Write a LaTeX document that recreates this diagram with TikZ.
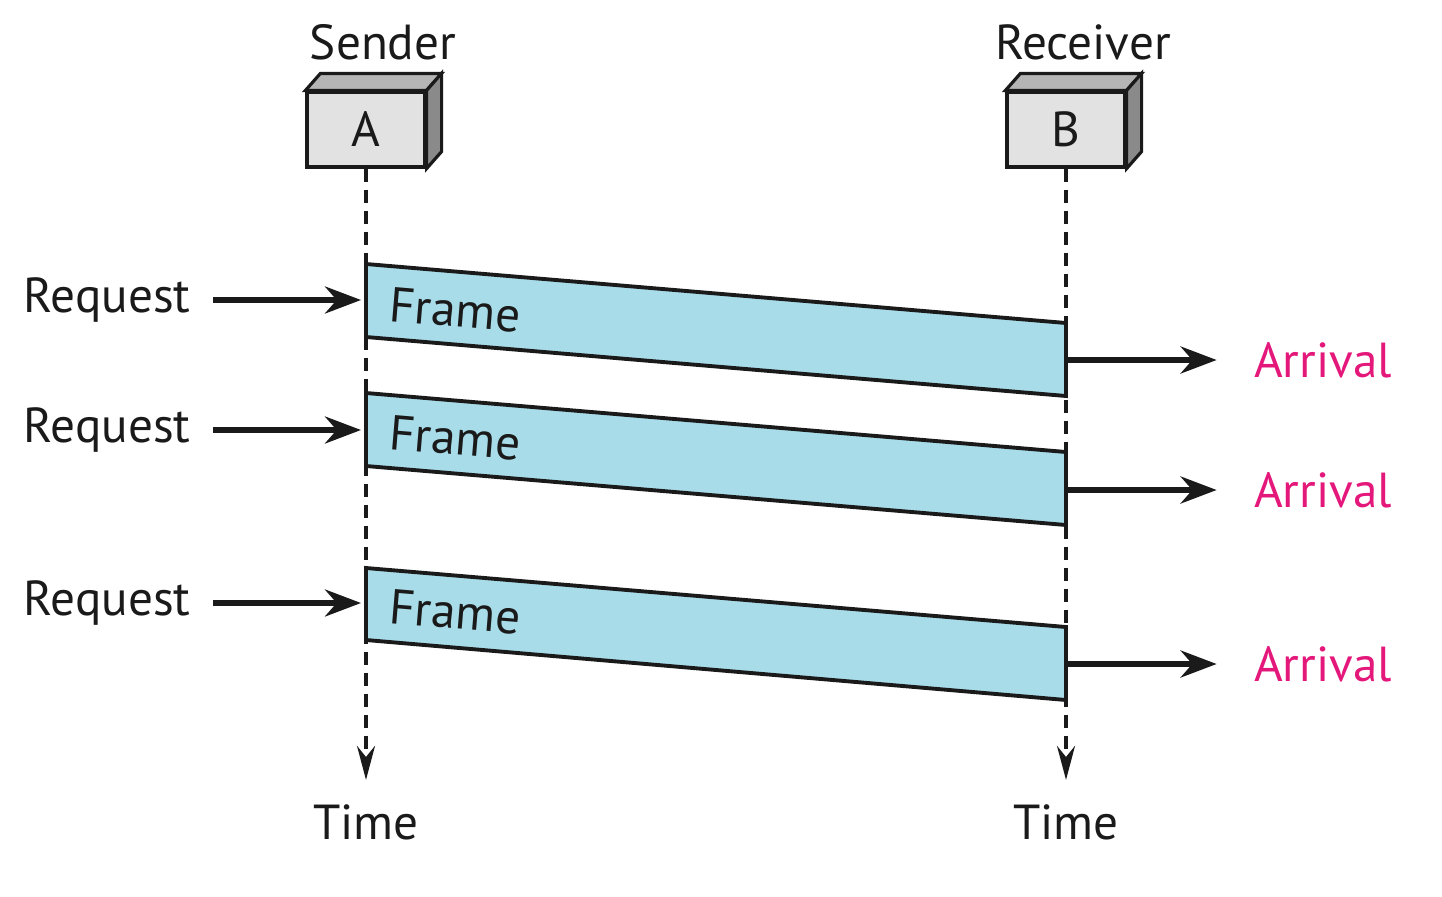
\documentclass[tikz,border=0pt]{standalone}
\usepackage{fontspec}
\setmainfont{PT Sans}
\usetikzlibrary{arrows.meta,positioning,calc}
\definecolor{Ink}{HTML}{1A1A1A}
\definecolor{Sky}{HTML}{A8DCE9}
\definecolor{Pink}{HTML}{E4187B}
\definecolor{BoxFace}{HTML}{E2E2E2}
\definecolor{BoxTop}{HTML}{B5B5B5}
\definecolor{BoxSide}{HTML}{8A8A8A}

\begin{document}
\begin{tikzpicture}[x=0.1cm,y=-0.1cm,
    lbl/.style={font=\fontsize{14}{16}\selectfont,text=Ink},
    station/.style={lbl,draw=Ink,line width=0.9pt,fill=BoxFace,minimum width=1.18cm,minimum height=0.75cm},
    arr/.style={-{Stealth[length=0.36cm,width=0.27cm]},line width=1.5pt,Ink},
    life/.style={dash pattern=on 0.13cm off 0.08cm,line width=0.9pt,Ink,-{Stealth[length=0.34cm,width=0.18cm]}},
    packet/.style={draw=Ink,line width=1.1pt,fill=Sky}]
        \useasboundingbox (0,0) rectangle (144.2,89.6);
        % stations
        \node[station] (A) at (36.6,12.95) {A};
        \draw[Ink,line width=0.9pt,fill=BoxTop] (A.north west) -- ++(1.5,-1.7) -- ($(A.north east)+(1.5,-1.7)$) -- (A.north east) -- cycle;
        \draw[Ink,line width=0.9pt,fill=BoxSide] (A.north east) -- ++(1.5,-1.7) -- ($(A.south east)+(1.5,-1.7)$) -- (A.south east) -- cycle;
        \node[station] (B) at (106.6,12.95) {B};
        \draw[Ink,line width=0.9pt,fill=BoxTop] (B.north west) -- ++(1.5,-1.7) -- ($(B.north east)+(1.5,-1.7)$) -- (B.north east) -- cycle;
        \draw[Ink,line width=0.9pt,fill=BoxSide] (B.north east) -- ++(1.5,-1.7) -- ($(B.south east)+(1.5,-1.7)$) -- (B.south east) -- cycle;
        \node[lbl] (sA) at (38.3,4.2) {Sender};
        \node[lbl] (sB) at (108.3,4.2) {Receiver};
        % time lines
        \node[lbl] (tA) at (36.6,82.2) {Time};
        \node[lbl] (tB) at (106.6,82.2) {Time};
        \draw[life,shorten >=0.12cm] (A) -- (tA);
        \draw[life,shorten >=0.12cm] (B) -- (tB);
        % frames
        \draw[packet] (36.6,26.4) -- (106.6,32.3) -- (106.6,39.6) -- (36.6,33.7) -- cycle;
        \draw[packet] (36.6,39.3) -- (106.6,45.2) -- (106.6,52.5) -- (36.6,46.6) -- cycle;
        \draw[packet] (36.6,56.8) -- (106.6,62.7) -- (106.6,70.0) -- (36.6,64.0) -- cycle;
        \node[lbl,rotate=-4.8] (f1) at (45.5,31.0) {Frame};
        \node[lbl,rotate=-4.8] (f2) at (45.5,43.8) {Frame};
        \node[lbl,rotate=-4.8] (f3) at (45.5,61.2) {Frame};
        % requests
        \node[lbl] (r1) at (10.7,30.0) {Request};
        \node[lbl] (r2) at (10.7,43.0) {Request};
        \node[lbl] (r3) at (10.7,60.3) {Request};
        \coordinate (q1) at (36.1,30.0);
        \coordinate (q2) at (36.1,43.0);
        \coordinate (q3) at (36.1,60.3);
        \draw[arr,shorten <=0.1cm] (r1) -- (q1);
        \draw[arr,shorten <=0.1cm] (r2) -- (q2);
        \draw[arr,shorten <=0.1cm] (r3) -- (q3);
        % arrivals
        \node[lbl,text=Pink] (a1) at (132.3,36.0) {Arrival};
        \node[lbl,text=Pink] (a2) at (132.3,49.0) {Arrival};
        \node[lbl,text=Pink] (a3) at (132.3,66.4) {Arrival};
        \coordinate (p1) at (106.6,36.0);
        \coordinate (p2) at (106.6,49.0);
        \coordinate (p3) at (106.6,66.4);
        \draw[arr,shorten >=0.25cm] (p1) -- (a1);
        \draw[arr,shorten >=0.25cm] (p2) -- (a2);
        \draw[arr,shorten >=0.25cm] (p3) -- (a3);
      \end{tikzpicture}
\end{document}
